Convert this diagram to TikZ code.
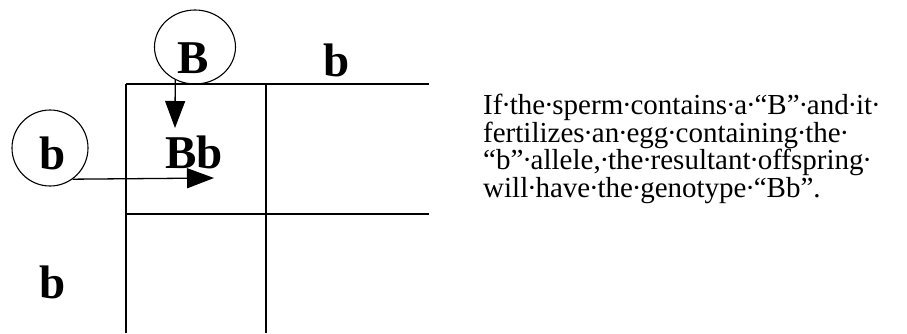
\documentclass[tikz,border=0pt]{standalone}
\usepackage{fontspec}
\setmainfont{Liberation Serif}
\usetikzlibrary{positioning,arrows.meta,shapes.geometric}
\newcommand{\vis}{\hbox to 0.25em{\hss·\hss}}

\begin{document}
\begin{tikzpicture}[x=1pt, y=-1pt,
    allele/.style={font=\fontsize{47}{47}\selectfont\bfseries, inner sep=0pt},
    gamete/.style={draw, ellipse, line width=1.1pt, inner sep=0pt},
    gridline/.style={line width=2.2pt},
    bigarrow/.style={-{Triangle[length=27pt, width=20pt]}, line width=1.3pt},
    note/.style={font=\fontsize{29}{23.5}\selectfont, align=left, inner sep=0pt, anchor=north west},
]
\useasboundingbox (0,0) rectangle (907,333);

% Punnett grid
\draw[gridline] (126,84) -- (429,84);
\draw[gridline] (126,214) -- (429,214);
\draw[gridline] (126,84) -- (126,333);
\draw[gridline] (266,84) -- (266,333);

% Gametes
\node[gamete, minimum width=81pt, minimum height=74pt] (Bcirc) at (195,47) {};
\node[allele] (Btop) at (193,58) {B};
\node[allele] (btop) at (337,60) {b};
\node[gamete, minimum width=76pt, minimum height=76pt] (bcirc) at (50,148) {};
\node[allele] (bleft) at (53,153) {b};
\node[allele] (bbot) at (53,282) {b};

% Offspring
\node[allele] (Bb) at (194,152) {Bb};

% Arrows
\coordinate (Btip) at (175,128);
\coordinate (btip) at (214,178);
\draw[bigarrow] (Bcirc.239) -- (Btip);
\draw[bigarrow] (bcirc.-54) -- (btip);

% Explanation
\node[note] (expl) at (483,94) {If\vis the\vis sperm\vis contains\vis a\vis “B”\vis and\vis it\vis\\
fertilizes\vis an\vis egg\vis containing\vis the\vis\\
“b”\vis allele,\vis the\vis resultant\vis offspring\vis\\
will\vis have\vis the\vis genotype\vis “Bb”.};

\end{tikzpicture}
\end{document}
